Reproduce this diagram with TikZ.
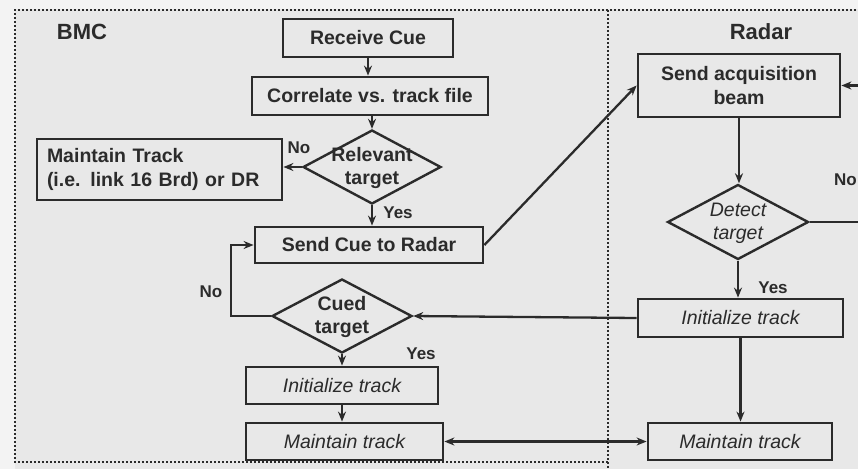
\documentclass[tikz,border=0pt]{standalone}
\usepackage{fontspec}
\setmainfont{Liberation Sans}
\usetikzlibrary{shapes.geometric,arrows.meta}
\definecolor{paper}{HTML}{E8E8E8}
\definecolor{margin}{HTML}{F3F3F3}
\definecolor{ink}{HTML}{2B2B2B}
\tikzset{
  flowbox/.style={draw=ink, line width=2.8pt, inner sep=0pt, font=\bfseries\fontsize{19.5}{23.5}\selectfont, text=ink, align=center},
  italicbox/.style={flowbox, font=\itshape\fontsize{19.5}{23.5}\selectfont},
  decision/.style={draw=ink, line width=2.4pt, diamond, inner sep=0pt},
  decisiontext/.style={inner sep=0pt, text=ink, align=center, font=\bfseries\fontsize{19.5}{23}\selectfont},
  flowlabel/.style={inner sep=0pt, text=ink, font=\bfseries\fontsize{17}{20}\selectfont},
  lanetitle/.style={inner sep=0pt, text=ink, font=\bfseries\fontsize{22}{26}\selectfont},
  flow/.style={draw=ink, line width=2.3pt, -{Stealth[length=10pt,width=8pt]}},
  twoway/.style={draw=ink, line width=2.3pt, {Stealth[length=10pt,width=8pt]}-{Stealth[length=10pt,width=8pt]}},
  lane/.style={draw=ink, line width=2pt, dotted, line cap=butt}
}
\begin{document}
\begin{tikzpicture}[x=1pt, y=-1pt]
  \useasboundingbox (0,0) rectangle (858,469);
  \clip (0,0) rectangle (858,469);
  \fill[paper] (0,0) rectangle (858,469);
  \fill[margin] (0,0) rectangle (15,469);
  \fill[margin] (0,0) rectangle (858,9);

  % swimlane frame and divider
  \draw[lane] (860,10) -- (15,10) -- (15,462) -- (608,462);
  \draw[lane] (608,10) -- (608,472);

  \node[lanetitle] (bmc) at (82,32) {BMC};
  \node[lanetitle] (radar) at (761,32) {Radar};

  % BMC lane
  \node[flowbox, minimum width=170pt, minimum height=38pt] (recv) at (368,38) {Receive Cue};
  \node[flowbox, minimum width=236pt, minimum height=38pt] (corr) at (370,96) {Correlate vs. track file};
  \node[decision, minimum width=138pt, minimum height=74pt] (relev) at (372,167) {};
  \node[decisiontext] (relevtxt) at (372,168) {Relevant\\target};
  \node[flowbox, minimum width=245pt, minimum height=61pt, text width=225pt, align=left] (mtrack) at (159.5,169.5) {Maintain Track\\(i.e. link 16 Brd) or DR};
  \node[flowbox, minimum width=228pt, minimum height=36pt] (scue) at (369,245) {Send Cue to Radar};
  \node[decision, minimum width=140pt, minimum height=74pt] (cued) at (342,316) {};
  \node[decisiontext] (cuedtxt) at (342,317) {Cued\\target};
  \node[italicbox, minimum width=192pt, minimum height=37pt] (initb) at (342,385.5) {Initialize track};
  \node[italicbox, minimum width=197pt, minimum height=37pt] (maintb) at (344.5,441.5) {Maintain track};

  % Radar lane
  \node[flowbox, minimum width=202pt, minimum height=63pt] (sacq) at (739,85.5) {Send acquisition\\beam};
  \node[decision, minimum width=141pt, minimum height=75pt] (detect) at (738,222) {};
  \node[decisiontext, font=\itshape\fontsize{19.5}{23}\selectfont] (detecttxt) at (738,223) {Detect\\target};
  \node[italicbox, minimum width=205pt, minimum height=38pt] (initr) at (740.5,318) {Initialize track};
  \node[italicbox, minimum width=184pt, minimum height=37pt] (maintr) at (740,441.5) {Maintain track};
  \coordinate (detectloop) at (880,222);

  % branch labels
  \node[flowlabel] (relevno) at (299,148) {No};
  \node[flowlabel] (relevyes) at (398,213) {Yes};
  \node[flowlabel] (cuedno) at (211,292) {No};
  \node[flowlabel] (cuedyes) at (421,354) {Yes};
  \node[flowlabel, anchor=east] (detectno) at (857,180) {No};
  \node[flowlabel] (detectyes) at (773,288) {Yes};

  % connectors
  \draw[flow] (recv.south) -- (recv.south |- corr.north);
  \draw[flow] (relev.north |- corr.south) -- (relev.north);
  \draw[flow] (relev.west) -- (relev.west -| mtrack.east);
  \draw[flow] (relev.south) -- (relev.south |- scue.north);
  \draw[flow] (scue.east) -- (sacq.west);
  \draw[flow] (cued.west) -- ++(-40,0) |- (scue.west);
  \draw[flow] (initr.west) -- (cued.east);
  \draw[flow] (cued.south) -- (cued.south |- initb.north);
  \draw[flow] (initb.south) -- (initb.south |- maintb.north);
  \draw[flow] (sacq.south) -- (sacq.south |- detect.north);
  \draw[flow] (detect.south) -- (detect.south |- initr.north);
  \draw[flow] (initr.south) -- (initr.south |- maintr.north);
  \draw[twoway] (maintb.east) -- (maintr.west |- maintb.east);
  \draw[flow] (detect.east) -- (detectloop) |- (sacq.east);
\end{tikzpicture}
\end{document}
